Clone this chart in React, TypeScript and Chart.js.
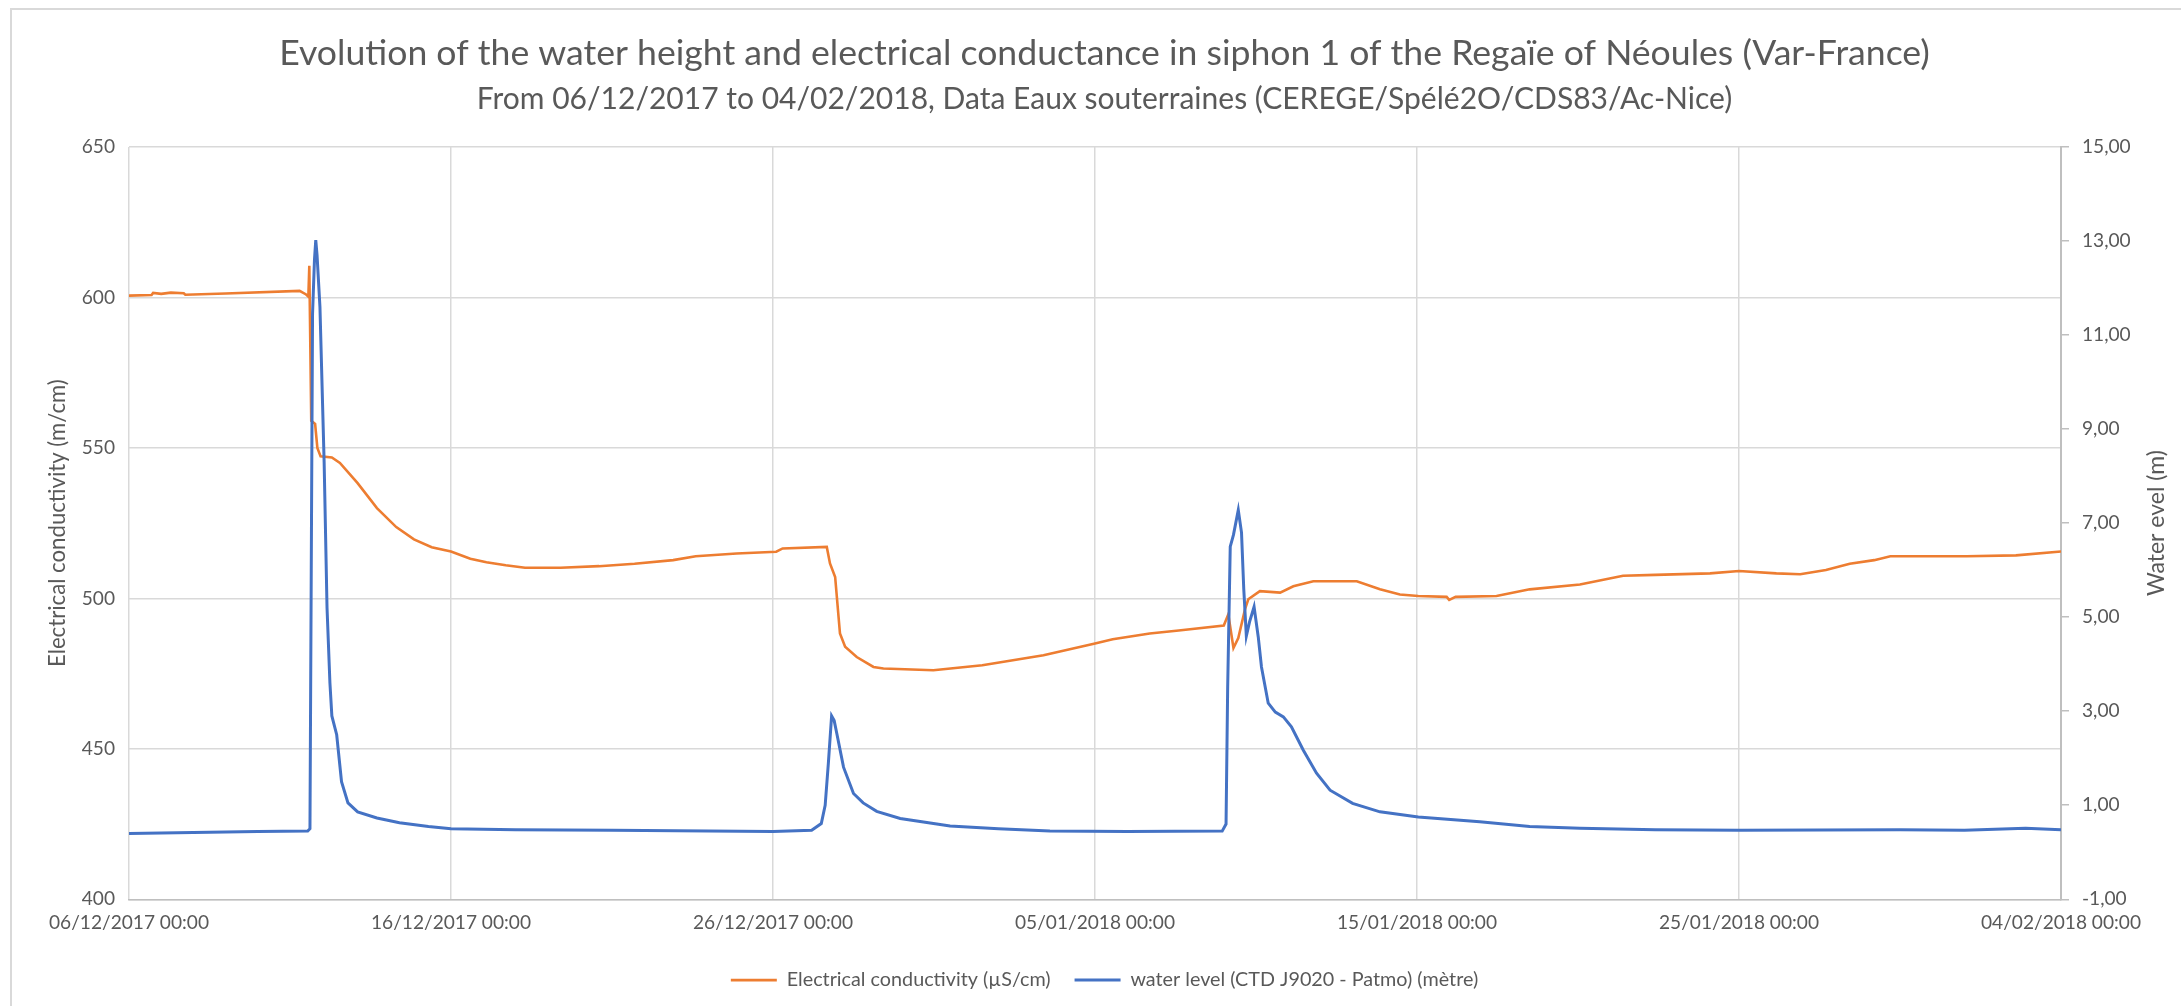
import React, { useEffect, useRef } from 'react';
import { Chart, registerables } from 'chart.js';

Chart.register(...registerables);

const W = 2181;
const H = 1006;

const TITLE = 'Evolution of the water height and electrical conductance in siphon 1 of the Regaïe of Néoules (Var-France)';
const SUBTITLE = 'From 06/12/2017 to 04/02/2018, Data Eaux souterraines (CEREGE/Spélé2O/CDS83/Ac-Nice)';
const LEFT_TITLE = 'Electrical conductivity (m/cm)';
const RIGHT_TITLE = 'Water evel (m)';
const EC_LABEL = 'Electrical conductivity (µS/cm)';
const WL_LABEL = 'water level (CTD J9020 - Patmo) (mètre)';

// x axis: days since 06/12/2017 00:00
const xTickDays = [0, 10, 20, 30, 40, 50, 60];
const xTickLabels = [
  '06/12/2017 00:00',
  '16/12/2017 00:00',
  '26/12/2017 00:00',
  '05/01/2018 00:00',
  '15/01/2018 00:00',
  '25/01/2018 00:00',
  '04/02/2018 00:00',
];
const ecTicks = [400, 450, 500, 550, 600, 650];
const wlTicks = [-1, 1, 3, 5, 7, 9, 11, 13, 15];

// Electrical conductivity series
const ecDays = [
  0, 0.7, 0.75, 1.0, 1.3, 1.7, 1.75, 3.0, 5.3, 5.5,
  5.57, 5.6, 5.66, 5.78, 5.85, 5.95, 6.3, 6.55,
  7.1, 7.7, 8.3, 8.85, 9.4, 10.0, 10.6, 11.1, 11.7, 12.3,
  13.4, 14.6, 15.7, 16.9, 17.6, 18.87, 20.1, 20.3, 21.67, 21.77,
  21.93, 22.08, 22.24, 22.6, 23.12, 23.43, 24.98, 26.5, 28.4, 30.0,
  30.55, 31.7, 32.6, 34.0, 34.14, 34.3, 34.45, 34.66, 34.76, 35.12,
  35.75, 36.16, 36.78, 38.13, 38.85, 39.47, 40.04, 40.92, 41.0, 41.2,
  42.47, 43.5, 45.06, 46.4, 47.4, 49.1, 50.0, 51.16, 51.9, 52.7,
  53.44, 54.2, 54.7, 57.07, 58.6, 60.0,
];
const ecValues = [
  600.6, 600.8, 601.5, 601.2, 601.6, 601.4, 600.9, 601.3, 602.2, 601.0,
  600.3, 610.5, 559, 558, 550, 547.2, 546.8, 545,
  538.3, 530, 523.7, 519.6, 517, 515.6, 513.2, 512, 511, 510.2,
  510.2, 510.7, 511.5, 512.7, 514, 514.9, 515.5, 516.6, 517.1, 511.6,
  507.1, 488.3, 483.9, 480.5, 477.2, 476.7, 476.1, 477.8, 481.1, 485,
  486.4, 488.3, 489.3, 491, 494.7, 483.5, 486.8, 496.4, 499.7, 502.4,
  501.9, 504, 505.7, 505.7, 503, 501.3, 500.8, 500.5, 499.5, 500.5,
  500.8, 503, 504.6, 507.5, 507.8, 508.3, 509.1, 508.3, 508, 509.4,
  511.5, 512.7, 514, 514, 514.3, 515.6,
];

// Water level series
const wlDays = [
  0, 2, 4, 5.55, 5.62, 5.66, 5.7, 5.76, 5.8, 5.84,
  5.93, 6.06, 6.15, 6.24, 6.3, 6.45, 6.6, 6.8, 7.1, 7.7,
  8.4, 9.3, 10, 12, 15, 18, 20, 21.2, 21.5, 21.62,
  21.72, 21.82, 21.9, 21.98, 22.19, 22.5, 22.8, 23.22, 23.95, 25.5,
  27, 28.6, 31, 33.95, 34.07, 34.12, 34.2, 34.3, 34.45, 34.55,
  34.62, 34.7, 34.8, 34.94, 35.07, 35.17, 35.38, 35.6, 35.85, 36.1,
  36.47, 36.88, 37.3, 38.0, 38.85, 40.04, 41.95, 43.5, 45.06, 47.4,
  50, 55, 57, 58.9, 60,
];
const wlValues = [
  0.4, 0.42, 0.44, 0.45, 0.5, 6.0, 11.45, 12.6, 13.02, 12.7,
  11.6, 8.3, 5.2, 3.6, 2.9, 2.5, 1.5, 1.05, 0.86, 0.73,
  0.63, 0.55, 0.5, 0.48, 0.47, 0.45, 0.44, 0.47, 0.61, 1.0,
  1.9, 2.9, 2.8, 2.53, 1.81, 1.25, 1.05, 0.87, 0.72, 0.56,
  0.5, 0.45, 0.44, 0.45, 0.6, 3.5, 6.5, 6.75, 7.28, 6.8,
  5.6, 4.6, 4.9, 5.22, 4.58, 3.94, 3.17, 2.98, 2.88, 2.67,
  2.17, 1.68, 1.32, 1.04, 0.86, 0.75, 0.65, 0.55, 0.51, 0.48,
  0.47, 0.48, 0.47, 0.51, 0.48,
];

const FONT = 'Lato, "Open Sans", sans-serif';
const GREY = '#595959';
const GRID = '#d9d9d9';
const AXIS = '#bfbfbf';
const ORANGE = '#ED7D31';
const BLUE = '#4472C4';

// target geometry (px)
const PLOT_LEFT = 129;
const PLOT_RIGHT = 2061;
const PLOT_TOP = 147;
const PAD_LEFT = 28;
const PAD_BOTTOM = 6;

function fitSize(text: string, target: number): number {
  const c = document.createElement('canvas').getContext('2d') as CanvasRenderingContext2D;
  c.font = `100px ${FONT}`;
  const w = c.measureText(text).width;
  return (100 * target) / w;
}

export default function App() {
  const ref = useRef<HTMLCanvasElement | null>(null);

  useEffect(() => {
    const canvas = ref.current;
    if (!canvas) return;

    const tSize = fitSize(TITLE, 1651);
    const sSize = fitSize(SUBTITLE, 1256);
    const lSize = fitSize(LEFT_TITLE, 288);
    const rSize = fitSize(RIGHT_TITLE, 146);
    const legSize = fitSize(EC_LABEL, 264);
    const tickSize = fitSize(xTickLabels[0], 160);

    const tLH = tSize * 1.2;
    const sLH = sSize * 1.2;
    const tTop = 54 - tLH / 2;
    const sTop = 99 - sLH / 2 - (tTop + tLH);
    const sBottom = PLOT_TOP - (99 + sLH / 2);
    const lLH = lSize * 1.2;
    const lPadTop = 58 - PAD_LEFT - lLH / 2;

    const framePlugin = {
      id: 'frame',
      beforeDraw(chart: any) {
        const ctx = chart.ctx;
        ctx.save();
        ctx.fillStyle = '#ffffff';
        ctx.fillRect(0, 0, W, H);
        ctx.strokeStyle = '#d9d9d9';
        ctx.lineWidth = 2;
        ctx.beginPath();
        ctx.moveTo(11, H);
        ctx.lineTo(11, 9);
        ctx.lineTo(W, 9);
        ctx.stroke();
        ctx.restore();
      },
    };

    const rightTitlePlugin = {
      id: 'rightTitle',
      afterDraw(chart: any) {
        const ctx = chart.ctx;
        const area = chart.chartArea;
        ctx.save();
        ctx.translate(2157, (area.top + area.bottom) / 2);
        ctx.rotate(-Math.PI / 2);
        ctx.textAlign = 'center';
        ctx.textBaseline = 'middle';
        ctx.fillStyle = GREY;
        ctx.font = `${rSize}px ${FONT}`;
        ctx.fillText(RIGHT_TITLE, 0, 0);
        ctx.restore();
      },
    };

    const chart = new Chart(canvas, {
      type: 'line',
      data: {
        datasets: [
          {
            label: EC_LABEL,
            data: ecDays.map((d, i) => ({ x: d, y: ecValues[i] })),
            borderColor: ORANGE,
            backgroundColor: ORANGE,
            borderWidth: 2.6,
            pointRadius: 0,
            tension: 0,
            yAxisID: 'y',
            order: 1,
          },
          {
            label: WL_LABEL,
            data: wlDays.map((d, i) => ({ x: d, y: wlValues[i] })),
            borderColor: BLUE,
            backgroundColor: BLUE,
            borderWidth: 3,
            pointRadius: 0,
            tension: 0,
            yAxisID: 'y1',
            order: 0,
          },
        ],
      },
      options: {
        responsive: false,
        animation: false,
        devicePixelRatio: 1,
        layout: { padding: { left: PAD_LEFT, right: 0, top: 0, bottom: PAD_BOTTOM } },
        plugins: {
          title: {
            display: true,
            text: TITLE,
            color: GREY,
            font: { family: FONT, size: tSize, weight: 'normal', lineHeight: 1.2 },
            padding: { top: tTop, bottom: 0 },
          },
          subtitle: {
            display: true,
            text: SUBTITLE,
            color: GREY,
            font: { family: FONT, size: sSize, weight: 'normal', lineHeight: 1.2 },
            padding: { top: sTop, bottom: sBottom },
          },
          legend: {
            display: true,
            position: 'bottom',
            labels: {
              color: GREY,
              font: { family: FONT, size: legSize },
              usePointStyle: true,
              pointStyle: 'line',
              pointStyleWidth: 46,
              padding: 24,
              sort: (a: any, b: any) => a.datasetIndex - b.datasetIndex,
            },
          },
          tooltip: { enabled: false },
        },
        scales: {
          x: {
            type: 'linear',
            min: xTickDays[0],
            max: xTickDays[xTickDays.length - 1],
            ticks: {
              stepSize: xTickDays[1] - xTickDays[0],
              autoSkip: false,
              maxRotation: 0,
              minRotation: 0,
              padding: 12,
              color: GREY,
              font: { family: FONT, size: tickSize },
              callback: (v: any, i: number) => {
                const k = xTickDays.indexOf(Math.round(Number(v)));
                return k >= 0 ? xTickLabels[k] : xTickLabels[i] || '';
              },
            },
            grid: { color: GRID, lineWidth: 1.5, drawTicks: false },
            border: { display: true, color: AXIS, width: 1.5 },
          },
          y: {
            type: 'linear',
            position: 'left',
            min: ecTicks[0],
            max: ecTicks[ecTicks.length - 1],
            afterBuildTicks: (s: any) => {
              s.ticks = ecTicks.map((v) => ({ value: v }));
            },
            afterFit: (s: any) => {
              s.width = PLOT_LEFT - PAD_LEFT;
            },
            ticks: {
              padding: 14,
              color: GREY,
              font: { family: FONT, size: tickSize },
              callback: (v: any) => String(v),
            },
            grid: { color: GRID, lineWidth: 1.5, drawTicks: false },
            border: { display: false },
            title: {
              display: true,
              text: LEFT_TITLE,
              color: GREY,
              font: { family: FONT, size: lSize, lineHeight: 1.2 },
              padding: { top: lPadTop, bottom: 0 },
            },
          },
          y1: {
            type: 'linear',
            position: 'right',
            min: wlTicks[0],
            max: wlTicks[wlTicks.length - 1],
            afterBuildTicks: (s: any) => {
              s.ticks = wlTicks.map((v) => ({ value: v }));
            },
            afterFit: (s: any) => {
              s.width = W - PLOT_RIGHT;
            },
            ticks: {
              padding: 13,
              color: GREY,
              font: { family: FONT, size: tickSize },
              callback: (v: any) => Number(v).toFixed(2).replace('.', ','),
            },
            grid: {
              drawOnChartArea: false,
              drawTicks: true,
              tickLength: 8,
              color: AXIS,
              lineWidth: 1.5,
            },
            border: { display: true, color: AXIS, width: 2 },
          },
        },
      } as any,
      plugins: [framePlugin, rightTitlePlugin],
    });

    return () => {
      chart.destroy();
    };
  }, []);

  return (
    <div style={{ position: 'fixed', left: 0, top: 0, width: W, height: H, background: '#fff' }}>
      <canvas ref={ref} width={W} height={H} style={{ display: 'block', width: W, height: H }} />
    </div>
  );
}
